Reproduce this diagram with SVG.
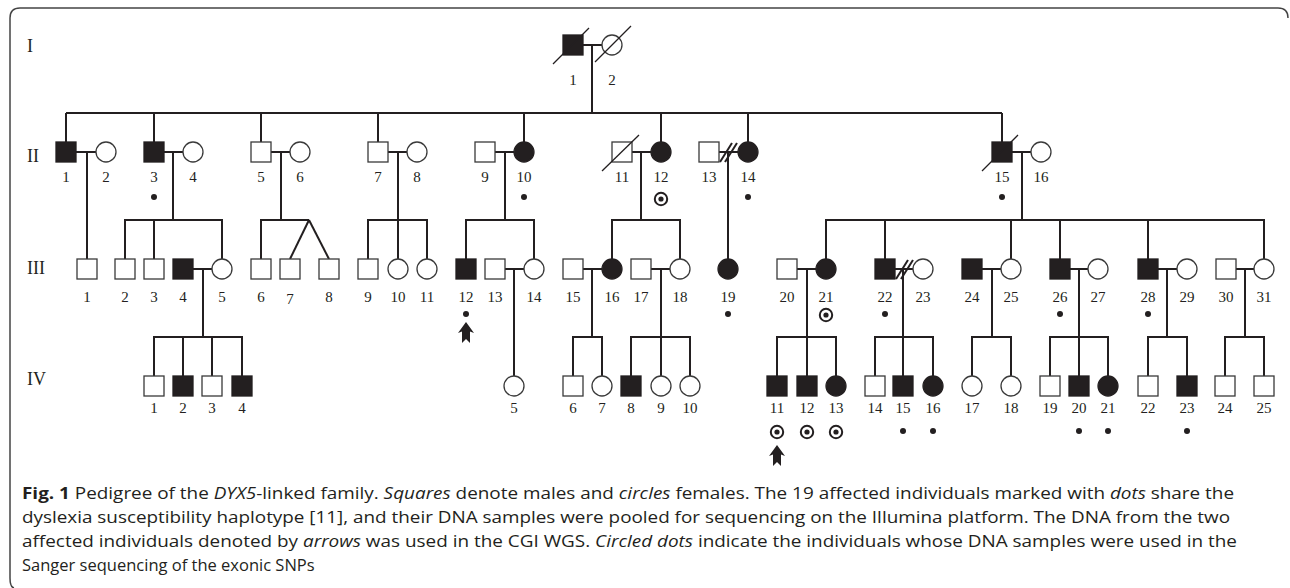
<svg xmlns="http://www.w3.org/2000/svg" width="1290" height="588" viewBox="0 0 1290 588">
<style>
.bg{fill:#fff}
.frame{fill:none;stroke:#444;stroke-width:1.5}
.c line,.c polyline{stroke:#231f20;stroke-width:2;fill:none}
.sl{stroke:#231f20;stroke-width:1.3}
.o{fill:#fff;stroke:#3a3a3a;stroke-width:1.3}
.f{fill:#231f20;stroke:#231f20;stroke-width:1.3}
.lb{font-family:"Liberation Serif","DejaVu Serif",serif;font-size:15px;fill:#231f20;text-anchor:middle}
.gen{font-family:"Liberation Serif","DejaVu Serif",serif;font-size:18px;fill:#231f20}
.dot{fill:#231f20}
.cd{fill:none;stroke:#231f20;stroke-width:2}
.cap{font-family:"Open Sans","Liberation Sans",sans-serif;font-size:16.5px;fill:#231f20}
.b{font-weight:bold}
.i{font-style:italic}
</style>
<defs>
<rect id="sq" x="-10" y="-10" width="20" height="20"/>
<g id="cdot"><circle r="6.2" class="cd"/><circle r="2.6" class="dot"/></g>
<polygon id="arrow" points="0,0 8,11 4,9.5 4,21 0,17 -4,21 -4,9.5 -8,11" fill="#231f20"/>
</defs>
<rect class="bg" width="1290" height="588"/>
<path class="frame" d="M1288 18 Q1288 8 1278 8 L20 8 Q10 8 10 18 L10 578 Q10 587 14 588"/>
<g id="generations">
<text class="gen" x="27" y="52">I</text>
<text class="gen" x="27" y="162">II</text>
<text class="gen" x="27" y="274">III</text>
<text class="gen" x="27" y="385">IV</text>
</g>
<g id="connectors" class="c">
<line x1="583" y1="45" x2="602" y2="45"/>
<line x1="592" y1="45" x2="592" y2="113"/>
<line x1="66" y1="113" x2="1002" y2="113"/>
<line x1="66" y1="113" x2="66" y2="142"/>
<line x1="154" y1="113" x2="154" y2="142"/>
<line x1="261" y1="113" x2="261" y2="142"/>
<line x1="378" y1="113" x2="378" y2="142"/>
<line x1="524" y1="113" x2="524" y2="142"/>
<line x1="661" y1="113" x2="661" y2="142"/>
<line x1="748" y1="113" x2="748" y2="142"/>
<line x1="1002" y1="113" x2="1002" y2="142"/>
<line x1="76" y1="152" x2="96" y2="152"/>
<line x1="87" y1="152" x2="87" y2="259"/>
<line x1="164" y1="152" x2="183" y2="152"/>
<line x1="173" y1="152" x2="173" y2="220"/>
<polyline points="125,259 125,220 222,220 222,259"/>
<line x1="154" y1="220" x2="154" y2="259"/>
<line x1="271" y1="152" x2="290" y2="152"/>
<line x1="281" y1="152" x2="281" y2="220"/>
<polyline points="261,259 261,220 309,220"/>
<line x1="309" y1="220" x2="290" y2="259"/>
<line x1="309" y1="220" x2="329" y2="259"/>
<line x1="388" y1="152" x2="407" y2="152"/>
<line x1="398" y1="152" x2="398" y2="259"/>
<polyline points="368,259 368,220 427,220 427,259"/>
<line x1="495" y1="152" x2="514" y2="152"/>
<line x1="505" y1="152" x2="505" y2="220"/>
<polyline points="466,259 466,220 534,220 534,259"/>
<line x1="632" y1="152" x2="651" y2="152"/>
<line x1="641" y1="152" x2="641" y2="220"/>
<polyline points="612,259 612,220 680,220 680,259"/>
<line x1="719" y1="152" x2="738" y2="152"/>
<line x1="728" y1="152" x2="728" y2="259"/>
<line x1="1012" y1="152" x2="1031" y2="152"/>
<line x1="1022" y1="152" x2="1022" y2="220"/>
<polyline points="826,259 826,220 1264,220 1264,259"/>
<line x1="885" y1="220" x2="885" y2="259"/>
<line x1="1011" y1="220" x2="1011" y2="259"/>
<line x1="1060" y1="220" x2="1060" y2="259"/>
<line x1="1148" y1="220" x2="1148" y2="259"/>
<line x1="193" y1="269" x2="212" y2="269"/>
<line x1="203" y1="269" x2="203" y2="337"/>
<polyline points="154,376 154,337 242,337 242,376"/>
<line x1="183" y1="337" x2="183" y2="376"/>
<line x1="212" y1="337" x2="212" y2="376"/>
<line x1="505" y1="269" x2="524" y2="269"/>
<line x1="514" y1="269" x2="514" y2="376"/>
<line x1="583" y1="269" x2="602" y2="269"/>
<line x1="592" y1="269" x2="592" y2="337"/>
<polyline points="573,376 573,337 602,337 602,376"/>
<line x1="651" y1="269" x2="670" y2="269"/>
<line x1="661" y1="269" x2="661" y2="376"/>
<polyline points="631,376 631,337 690,337 690,376"/>
<line x1="797" y1="269" x2="816" y2="269"/>
<line x1="807" y1="269" x2="807" y2="376"/>
<polyline points="777,376 777,337 836,337 836,376"/>
<line x1="895" y1="269" x2="913" y2="269"/>
<line x1="903" y1="269" x2="903" y2="376"/>
<polyline points="875,376 875,337 933,337 933,376"/>
<line x1="982" y1="269" x2="1001" y2="269"/>
<line x1="992" y1="269" x2="992" y2="337"/>
<polyline points="972,376 972,337 1011,337 1011,376"/>
<line x1="1070" y1="269" x2="1088" y2="269"/>
<line x1="1079" y1="269" x2="1079" y2="376"/>
<polyline points="1050,376 1050,337 1108,337 1108,376"/>
<line x1="1158" y1="269" x2="1177" y2="269"/>
<line x1="1167" y1="269" x2="1167" y2="337"/>
<polyline points="1148,376 1148,337 1187,337 1187,376"/>
<line x1="1236" y1="269" x2="1254" y2="269"/>
<line x1="1245" y1="269" x2="1245" y2="337"/>
<polyline points="1225,376 1225,337 1264,337 1264,376"/>
<line class="sl" x1="720" y1="162" x2="732" y2="143"/>
<line class="sl" x1="725" y1="162" x2="737" y2="143"/>
<line class="sl" x1="896" y1="279" x2="908" y2="260"/>
<line class="sl" x1="901" y1="279" x2="913" y2="260"/>
</g>
<g id="I-1"><use href="#sq" class="f" x="573" y="45"/><line class="sl" x1="553" y1="64" x2="589" y2="28"/><text class="lb" x="573" y="85">1</text></g>
<g id="I-2"><circle class="o" cx="612" cy="45" r="10"/><line class="sl" x1="595" y1="62" x2="631" y2="26"/><text class="lb" x="612" y="85">2</text></g>
<g id="II-1"><use href="#sq" class="f" x="66" y="152"/><text class="lb" x="66" y="182">1</text></g>
<g id="II-2"><circle class="o" cx="106" cy="152" r="10"/><text class="lb" x="106" y="182">2</text></g>
<g id="II-3"><use href="#sq" class="f" x="154" y="152"/><text class="lb" x="154" y="182">3</text><circle class="dot" cx="154" cy="197" r="3"/></g>
<g id="II-4"><circle class="o" cx="193" cy="152" r="10"/><text class="lb" x="193" y="182">4</text></g>
<g id="II-5"><use href="#sq" class="o" x="261" y="152"/><text class="lb" x="261" y="182">5</text></g>
<g id="II-6"><circle class="o" cx="300" cy="152" r="10"/><text class="lb" x="300" y="182">6</text></g>
<g id="II-7"><use href="#sq" class="o" x="378" y="152"/><text class="lb" x="378" y="182">7</text></g>
<g id="II-8"><circle class="o" cx="417" cy="152" r="10"/><text class="lb" x="417" y="182">8</text></g>
<g id="II-9"><use href="#sq" class="o" x="485" y="152"/><text class="lb" x="485" y="182">9</text></g>
<g id="II-10"><circle class="f" cx="524" cy="152" r="10"/><text class="lb" x="524" y="182">10</text><circle class="dot" cx="524" cy="197" r="3"/></g>
<g id="II-11"><use href="#sq" class="o" x="622" y="152"/><line class="sl" x1="602" y1="171" x2="639" y2="135"/><text class="lb" x="622" y="182">11</text></g>
<g id="II-12"><circle class="f" cx="661" cy="152" r="10"/><text class="lb" x="661" y="182">12</text><use href="#cdot" x="661" y="199"/></g>
<g id="II-13"><use href="#sq" class="o" x="709" y="152"/><text class="lb" x="709" y="182">13</text></g>
<g id="II-14"><circle class="f" cx="748" cy="152" r="10"/><text class="lb" x="748" y="182">14</text><circle class="dot" cx="748" cy="197" r="3"/></g>
<g id="II-15"><use href="#sq" class="f" x="1002" y="152"/><line class="sl" x1="982" y1="171" x2="1018" y2="135"/><text class="lb" x="1002" y="182">15</text><circle class="dot" cx="1002" cy="197" r="3"/></g>
<g id="II-16"><circle class="o" cx="1041" cy="152" r="10"/><text class="lb" x="1041" y="182">16</text></g>
<g id="III-1"><use href="#sq" class="o" x="87" y="269"/><text class="lb" x="87" y="302">1</text></g>
<g id="III-2"><use href="#sq" class="o" x="125" y="269"/><text class="lb" x="125" y="302">2</text></g>
<g id="III-3"><use href="#sq" class="o" x="154" y="269"/><text class="lb" x="154" y="302">3</text></g>
<g id="III-4"><use href="#sq" class="f" x="183" y="269"/><text class="lb" x="183" y="302">4</text></g>
<g id="III-5"><circle class="o" cx="222" cy="269" r="10"/><text class="lb" x="222" y="302">5</text></g>
<g id="III-6"><use href="#sq" class="o" x="261" y="269"/><text class="lb" x="261" y="302">6</text></g>
<g id="III-7"><use href="#sq" class="o" x="290" y="269"/><text class="lb" x="290" y="304">7</text></g>
<g id="III-8"><use href="#sq" class="o" x="329" y="269"/><text class="lb" x="329" y="302">8</text></g>
<g id="III-9"><use href="#sq" class="o" x="368" y="269"/><text class="lb" x="368" y="302">9</text></g>
<g id="III-10"><circle class="o" cx="398" cy="269" r="10"/><text class="lb" x="398" y="302">10</text></g>
<g id="III-11"><circle class="o" cx="427" cy="269" r="10"/><text class="lb" x="427" y="302">11</text></g>
<g id="III-12"><use href="#sq" class="f" x="466" y="269"/><text class="lb" x="466" y="302">12</text><circle class="dot" cx="466" cy="314" r="3"/><use href="#arrow" x="466" y="322"/></g>
<g id="III-13"><use href="#sq" class="o" x="495" y="269"/><text class="lb" x="495" y="302">13</text></g>
<g id="III-14"><circle class="o" cx="534" cy="269" r="10"/><text class="lb" x="534" y="302">14</text></g>
<g id="III-15"><use href="#sq" class="o" x="573" y="269"/><text class="lb" x="573" y="302">15</text></g>
<g id="III-16"><circle class="f" cx="612" cy="269" r="10"/><text class="lb" x="612" y="302">16</text></g>
<g id="III-17"><use href="#sq" class="o" x="641" y="269"/><text class="lb" x="641" y="302">17</text></g>
<g id="III-18"><circle class="o" cx="680" cy="269" r="10"/><text class="lb" x="680" y="302">18</text></g>
<g id="III-19"><circle class="f" cx="728" cy="269" r="10"/><text class="lb" x="728" y="302">19</text><circle class="dot" cx="728" cy="314" r="3"/></g>
<g id="III-20"><use href="#sq" class="o" x="787" y="269"/><text class="lb" x="787" y="302">20</text></g>
<g id="III-21"><circle class="f" cx="826" cy="269" r="10"/><text class="lb" x="826" y="302">21</text><use href="#cdot" x="826" y="315"/></g>
<g id="III-22"><use href="#sq" class="f" x="885" y="269"/><text class="lb" x="885" y="302">22</text><circle class="dot" cx="885" cy="314" r="3"/></g>
<g id="III-23"><circle class="o" cx="923" cy="269" r="10"/><text class="lb" x="923" y="302">23</text></g>
<g id="III-24"><use href="#sq" class="f" x="972" y="269"/><text class="lb" x="972" y="302">24</text></g>
<g id="III-25"><circle class="o" cx="1011" cy="269" r="10"/><text class="lb" x="1011" y="302">25</text></g>
<g id="III-26"><use href="#sq" class="f" x="1060" y="269"/><text class="lb" x="1060" y="302">26</text><circle class="dot" cx="1060" cy="314" r="3"/></g>
<g id="III-27"><circle class="o" cx="1098" cy="269" r="10"/><text class="lb" x="1098" y="302">27</text></g>
<g id="III-28"><use href="#sq" class="f" x="1148" y="269"/><text class="lb" x="1148" y="302">28</text><circle class="dot" cx="1148" cy="314" r="3"/></g>
<g id="III-29"><circle class="o" cx="1187" cy="269" r="10"/><text class="lb" x="1187" y="302">29</text></g>
<g id="III-30"><use href="#sq" class="o" x="1226" y="269"/><text class="lb" x="1226" y="302">30</text></g>
<g id="III-31"><circle class="o" cx="1264" cy="269" r="10"/><text class="lb" x="1264" y="302">31</text></g>
<g id="IV-1"><use href="#sq" class="o" x="154" y="386"/><text class="lb" x="154" y="413">1</text></g>
<g id="IV-2"><use href="#sq" class="f" x="183" y="386"/><text class="lb" x="183" y="413">2</text></g>
<g id="IV-3"><use href="#sq" class="o" x="212" y="386"/><text class="lb" x="212" y="413">3</text></g>
<g id="IV-4"><use href="#sq" class="f" x="242" y="386"/><text class="lb" x="242" y="413">4</text></g>
<g id="IV-5"><circle class="o" cx="514" cy="386" r="10"/><text class="lb" x="514" y="413">5</text></g>
<g id="IV-6"><use href="#sq" class="o" x="573" y="386"/><text class="lb" x="573" y="413">6</text></g>
<g id="IV-7"><circle class="o" cx="602" cy="386" r="10"/><text class="lb" x="602" y="413">7</text></g>
<g id="IV-8"><use href="#sq" class="f" x="631" y="386"/><text class="lb" x="631" y="413">8</text></g>
<g id="IV-9"><circle class="o" cx="661" cy="386" r="10"/><text class="lb" x="661" y="413">9</text></g>
<g id="IV-10"><circle class="o" cx="690" cy="386" r="10"/><text class="lb" x="690" y="413">10</text></g>
<g id="IV-11"><use href="#sq" class="f" x="777" y="386"/><text class="lb" x="777" y="413">11</text><use href="#cdot" x="777" y="432"/><use href="#arrow" x="777" y="445"/></g>
<g id="IV-12"><use href="#sq" class="f" x="807" y="386"/><text class="lb" x="807" y="413">12</text><use href="#cdot" x="807" y="432"/></g>
<g id="IV-13"><circle class="f" cx="836" cy="386" r="10"/><text class="lb" x="836" y="413">13</text><use href="#cdot" x="836" y="432"/></g>
<g id="IV-14"><use href="#sq" class="o" x="875" y="386"/><text class="lb" x="875" y="413">14</text></g>
<g id="IV-15"><use href="#sq" class="f" x="903" y="386"/><text class="lb" x="903" y="413">15</text><circle class="dot" cx="903" cy="431" r="3"/></g>
<g id="IV-16"><circle class="f" cx="933" cy="386" r="10"/><text class="lb" x="933" y="413">16</text><circle class="dot" cx="933" cy="431" r="3"/></g>
<g id="IV-17"><circle class="o" cx="972" cy="386" r="10"/><text class="lb" x="972" y="413">17</text></g>
<g id="IV-18"><circle class="o" cx="1011" cy="386" r="10"/><text class="lb" x="1011" y="413">18</text></g>
<g id="IV-19"><use href="#sq" class="o" x="1050" y="386"/><text class="lb" x="1050" y="413">19</text></g>
<g id="IV-20"><use href="#sq" class="f" x="1079" y="386"/><text class="lb" x="1079" y="413">20</text><circle class="dot" cx="1079" cy="431" r="3"/></g>
<g id="IV-21"><circle class="f" cx="1108" cy="386" r="10"/><text class="lb" x="1108" y="413">21</text><circle class="dot" cx="1108" cy="431" r="3"/></g>
<g id="IV-22"><use href="#sq" class="o" x="1148" y="386"/><text class="lb" x="1148" y="413">22</text></g>
<g id="IV-23"><use href="#sq" class="f" x="1187" y="386"/><text class="lb" x="1187" y="413">23</text><circle class="dot" cx="1187" cy="431" r="3"/></g>
<g id="IV-24"><use href="#sq" class="o" x="1225" y="386"/><text class="lb" x="1225" y="413">24</text></g>
<g id="IV-25"><use href="#sq" class="o" x="1264" y="386"/><text class="lb" x="1264" y="413">25</text></g>
<g id="caption" class="cap">
<text x="22" y="499" textLength="1212" lengthAdjust="spacingAndGlyphs"><tspan class="b">Fig. 1</tspan> Pedigree of the <tspan class="i">DYX5</tspan>-linked family. <tspan class="i">Squares</tspan> denote males and <tspan class="i">circles</tspan> females. The 19 affected individuals marked with <tspan class="i">dots</tspan> share the</text>
<text x="22" y="523" textLength="1208" lengthAdjust="spacingAndGlyphs">dyslexia susceptibility haplotype [11], and their DNA samples were pooled for sequencing on the Illumina platform. The DNA from the two</text>
<text x="22" y="547" textLength="1215" lengthAdjust="spacingAndGlyphs">affected individuals denoted by <tspan class="i">arrows</tspan> was used in the CGI WGS. <tspan class="i">Circled dots</tspan> indicate the individuals whose DNA samples were used in the</text>
<text x="22" y="571">Sanger sequencing of the exonic SNPs</text>
</g>
</svg>
